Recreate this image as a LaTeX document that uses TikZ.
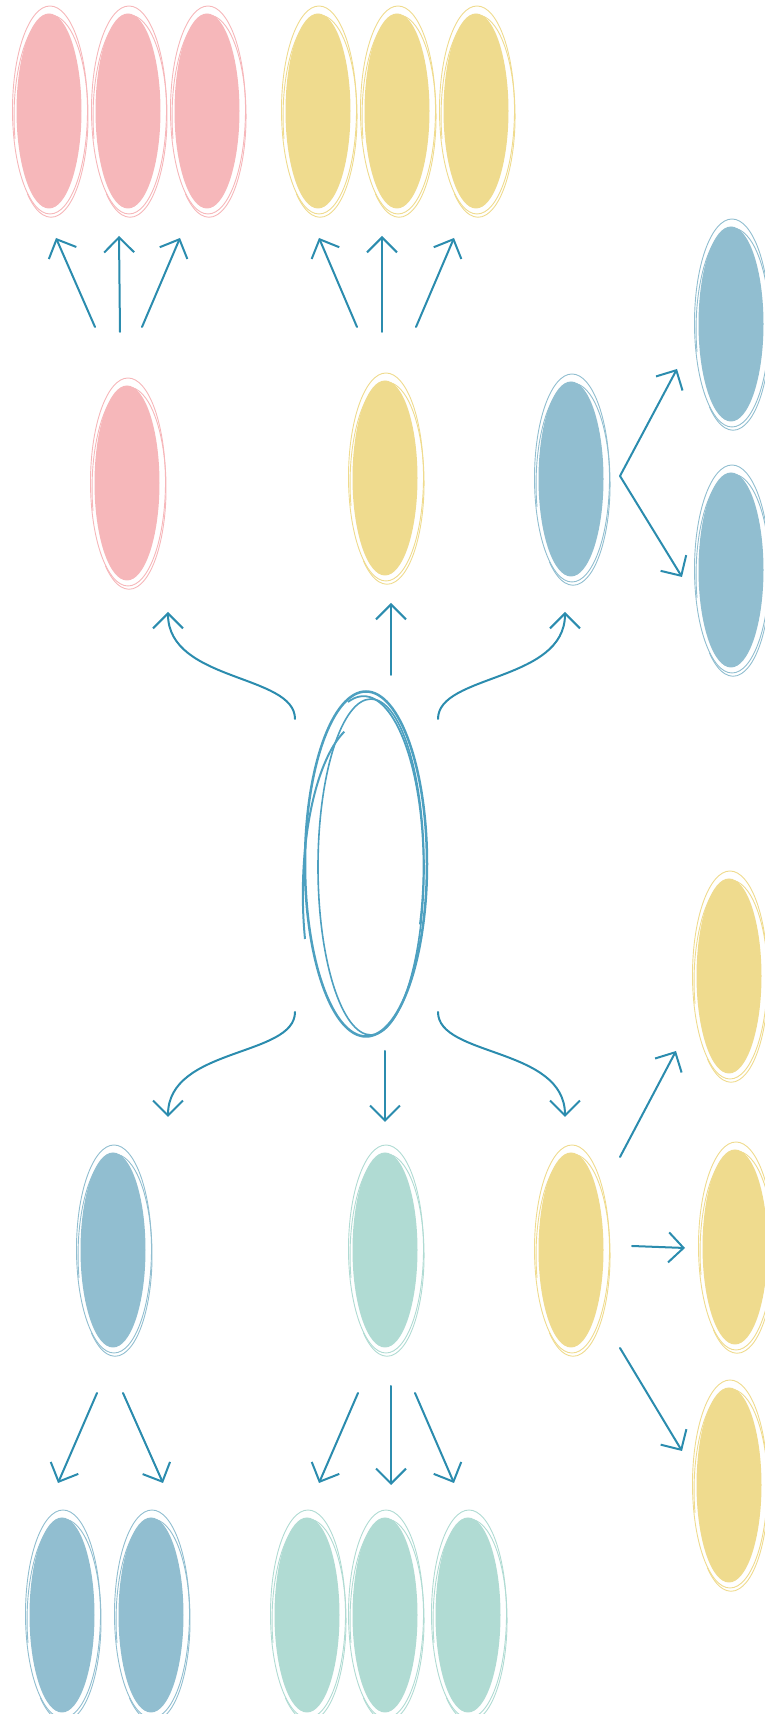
\documentclass[tikz,border=0pt]{standalone}
\usetikzlibrary{arrows.meta, calc, shapes.geometric}

\definecolor{pinkfill}{HTML}{F6B7BA}
\definecolor{yellowfill}{HTML}{EFDB8E}
\definecolor{bluefill}{HTML}{91BED0}
\definecolor{tealfill}{HTML}{B0DBD3}
\definecolor{arrowblue}{HTML}{2B8CAE}
\definecolor{hubblue}{HTML}{4DA0C0}

% filled ellipse with two loose hand drawn outlines
\newcommand{\blob}[4]{%
  \node[bubble, fill=#4] (#1) at (#2,#3) {};
  \draw[outline, draw=#4] ($(#1.center)+(1,1)$) ellipse [x radius=37.5, y radius=104];
  \draw[outline, draw=#4] ($(#1.center)+(-34,-28)$) arc [start angle=193, end angle=-130, x radius=37, y radius=101];
}

\begin{document}
\begin{tikzpicture}[
  x=1pt, y=1pt,
  bubble/.style={ellipse, draw=none, minimum width=65pt, minimum height=195pt, inner sep=0pt},
  hubnode/.style={ellipse, draw=hubblue, line width=2.5pt, minimum width=122pt, minimum height=345pt, inner sep=0pt},
  outline/.style={line width=0.9pt},
  arrow/.style={->, draw=arrowblue, line width=2pt, line cap=round, line join=round},
  >={Straight Barb[length=15pt, width=30pt]}
]
\useasboundingbox (0,0) rectangle (764,1714);

% Centre
\node[hubnode] (hub) at (366,850) {};
\draw[hubblue, line width=1.6pt] ($(hub.center)+(5,-3)$) ellipse [x radius=53, y radius=168];
\draw[hubblue, line width=2pt] ($(hub.center)+(-61,-75)$) arc [start angle=195, end angle=110, x radius=63, y radius=173];
\draw[hubblue, line width=1.8pt] ($(hub.center)+(-18,162)$) arc [start angle=105, end angle=-20, x radius=60, y radius=170];

% Upper branches
\blob{pk}{127}{1231}{pinkfill}
\blob{yl}{385}{1236}{yellowfill}
\blob{bl}{571}{1235}{bluefill}

% Top row
\blob{pka}{49}{1603}{pinkfill}
\blob{pkb}{128}{1603}{pinkfill}
\blob{pkc}{207}{1603}{pinkfill}
\blob{yla}{318}{1603}{yellowfill}
\blob{ylb}{397}{1603}{yellowfill}
\blob{ylc}{476}{1603}{yellowfill}

% Right column, top
\blob{bla}{731}{1390}{bluefill}
\blob{blb}{731}{1144}{bluefill}

% Lower branches
\blob{bb}{113}{464}{bluefill}
\blob{tl}{385}{464}{tealfill}
\blob{yb}{571}{464}{yellowfill}

% Right column, bottom
\blob{yba}{729}{738}{yellowfill}
\blob{ybb}{735}{467}{yellowfill}
\blob{ybc}{729}{229}{yellowfill}

% Bottom row
\blob{bba}{62}{99}{bluefill}
\blob{bbb}{151}{99}{bluefill}
\blob{tla}{307}{99}{tealfill}
\blob{tlb}{385}{99}{tealfill}
\blob{tlc}{468}{99}{tealfill}

% Arrows from the centre
\draw[arrow] ($(hub)+(-71,145)$) .. controls +(0,45) and +(0,-70) .. ($(pk)+(41,-129)$);
\draw[arrow] ($(hub)+(25,189)$) -- ($(yl)+(6,-125)$);
\draw[arrow] ($(hub)+(72,145)$) .. controls +(0,45) and +(0,-70) .. ($(bl)+(-6,-133)$);
\draw[arrow] ($(hub)+(-71,-148)$) .. controls +(0,-45) and +(0,70) .. ($(bb)+(55,133)$);
\draw[arrow] ($(hub)+(19,-187)$) -- ($(tl)+(0,128)$);
\draw[arrow] ($(hub)+(72,-148)$) .. controls +(0,-45) and +(0,70) .. ($(yb)+(-6,133)$);

% Upper arrows
\draw[arrow] ($(pk)+(-32,156)$) -- ($(pka)+(7,-127)$);
\draw[arrow] ($(pk)+(-7,151)$) -- ($(pkb)+(-9,-125)$);
\draw[arrow] ($(pk)+(15,156)$) -- ($(pkc)+(-27,-127)$);
\draw[arrow] ($(yl)+(-28,151)$) -- ($(yla)+(1,-127)$);
\draw[arrow] ($(yl)+(-3,146)$) -- ($(ylb)+(-15,-125)$);
\draw[arrow] ($(yl)+(31,151)$) -- ($(ylc)+(-22,-127)$);
\draw[arrow, <->] ($(bla)+(-54,-45)$) -- ($(bl)+(49,3)$) -- ($(blb)+(-49,-7)$);

% Lower arrows
\draw[arrow] ($(yb)+(49,93)$) -- ($(yba)+(-53,-75)$);
\draw[arrow] ($(yb)+(61,4)$) -- ($(ybb)+(-50,-1)$);
\draw[arrow] ($(yb)+(49,-98)$) -- ($(ybc)+(-47,34)$);
\draw[arrow] ($(bb)+(-16,-143)$) -- ($(bba)+(-4,132)$);
\draw[arrow] ($(bb)+(10,-143)$) -- ($(bbb)+(12,132)$);
\draw[arrow] ($(tl)+(-27,-143)$) -- ($(tla)+(12,132)$);
\draw[arrow] ($(tl)+(6,-136)$) -- ($(tlb)+(6,130)$);
\draw[arrow] ($(tl)+(30,-143)$) -- ($(tlc)+(-14,132)$);

\end{tikzpicture}
\end{document}
